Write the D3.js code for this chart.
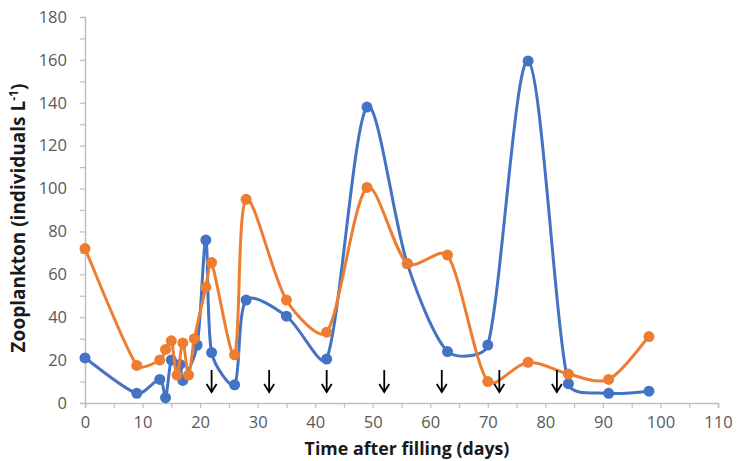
<!DOCTYPE html>
<html>
<head>
<meta charset="utf-8">
<script src="https://cdn.jsdelivr.net/npm/d3@7"></script>
<style>
  body { margin: 0; background: #fff; }
  svg { display: block; }
</style>
</head>
<body>
<svg id="chart" width="742" height="461"></svg>
<script>
// sampling days and counts for the two series
const blueDays = [0, 9, 13, 14, 15, 16.5, 17, 19.5, 21, 22, 26, 28, 35, 42, 49, 56, 63, 70, 77, 84, 91, 98];
const blueVals = [21, 4.5, 11, 2.5, 20, 18, 10.5, 27, 76, 23.5, 8.5, 48, 40.5, 20.5, 138, 65, 24, 27, 159.5, 9, 4.5, 5.5];
const orangeDays = [0, 9, 13, 14, 15, 16, 17, 18, 19, 21, 22, 26, 28, 35, 42, 49, 56, 63, 70, 77, 84, 91, 98];
const orangeVals = [72, 17.5, 20, 25, 29, 13, 28, 13, 30, 54, 65.5, 22.5, 95, 48, 33, 100.5, 65, 69, 10, 19, 13.5, 11, 31];
const arrowDays = [22, 32, 42, 52, 62, 72, 82];
const xTicks = d3.range(0, 111, 10);
const yTicks = d3.range(0, 181, 20);

const svg = d3.select("#chart");
const margin = {top: 17, right: 24, bottom: 58, left: 85};
const width = 742, height = 461;

const x = d3.scaleLinear().domain([0, 110]).range([margin.left, width - margin.right]);
const y = d3.scaleLinear().domain([0, 180]).range([height - margin.bottom, margin.top]);

const axisColor = "#bfbfbf";
const labelColor = "#595959";

// y axis
const yAxis = svg.append("g")
    .attr("transform", `translate(${margin.left},0)`)
    .call(d3.axisLeft(y).tickValues(d3.range(0, 181, 10)).tickSize(5).tickFormat(d => yTicks.includes(d) ? d : ""));
yAxis.select(".domain").attr("stroke", axisColor).attr("stroke-width", 1.5);
yAxis.selectAll(".tick line").attr("stroke", axisColor).attr("stroke-width", 1.2);
yAxis.selectAll(".tick text")
    .attr("x", -18)
    .attr("fill", labelColor)
    .style("font-family", "'Open Sans', sans-serif")
    .style("font-size", "16.5px");

// x axis
const xAxis = svg.append("g")
    .attr("transform", `translate(0,${y(0)})`)
    .call(d3.axisBottom(x).tickValues(d3.range(0, 111, 5)).tickSize(5).tickFormat(d => xTicks.includes(d) ? d : ""));
xAxis.select(".domain").attr("stroke", axisColor).attr("stroke-width", 1.5);
xAxis.selectAll(".tick line").attr("stroke", axisColor).attr("stroke-width", 1.2);
xAxis.selectAll(".tick text")
    .attr("y", 13)
    .attr("fill", labelColor)
    .style("font-family", "'Open Sans', sans-serif")
    .style("font-size", "16.5px");

// axis titles
svg.append("text")
    .attr("transform", `translate(25,${(y(0) + y(180)) / 2 + 8}) rotate(-90)`)
    .attr("text-anchor", "middle")
    .attr("fill", "#1a1a1a")
    .style("font-family", "'Open Sans', sans-serif")
    .style("font-weight", "bold")
    .style("font-size", "19px")
    .html("Zooplankton (individuals L<tspan dy='-7' font-size='12px'>-1</tspan><tspan dy='7'>)</tspan>");

svg.append("text")
    .attr("x", 407)
    .attr("y", 455)
    .attr("text-anchor", "middle")
    .attr("fill", "#1a1a1a")
    .style("font-family", "'Open Sans', sans-serif")
    .style("font-weight", "bold")
    .style("font-size", "17.8px")
    .text("Time after filling (days)");

// series
const series = [
    {color: "#4472c4", pts: blueDays.map((d, i) => [d, blueVals[i]])},
    {color: "#ed7d31", pts: orangeDays.map((d, i) => [d, orangeVals[i]])}
];

// spreadsheet-style smoothing: cardinal tangents, shortened next to long segments
function smoothPath(pts) {
    const p = pts.map(d => [x(d[0]), y(d[1])]);
    const n = p.length;
    const dist = (a, b) => Math.hypot(b[0] - a[0], b[1] - a[1]);
    const tan = p.map((d, i) => {
        const a = p[Math.max(0, i - 1)], b = p[Math.min(n - 1, i + 1)];
        return [(b[0] - a[0]) / 6, (b[1] - a[1]) / 6];
    });
    const seg = d3.range(n - 1).map(i => dist(p[i], p[i + 1]));
    const path = d3.path();
    path.moveTo(p[0][0], p[0][1]);
    for (let i = 0; i < n - 1; i++) {
        const prev = i > 0 ? seg[i - 1] : seg[i];
        const next = i < n - 2 ? seg[i + 1] : seg[i];
        const s1 = Math.min(1, 2 * seg[i] / (prev + seg[i]));
        const s2 = Math.min(1, 2 * seg[i] / (next + seg[i]));
        path.bezierCurveTo(
            p[i][0] + tan[i][0] * s1, p[i][1] + tan[i][1] * s1,
            p[i + 1][0] - tan[i + 1][0] * s2, p[i + 1][1] - tan[i + 1][1] * s2,
            p[i + 1][0], p[i + 1][1]);
    }
    return path.toString();
}

series.forEach(s => {
    const g = svg.append("g");
    g.append("path")
        .attr("d", smoothPath(s.pts))
        .attr("fill", "none")
        .attr("stroke", s.color)
        .attr("stroke-width", 3);
    g.selectAll("circle")
        .data(s.pts)
        .join("circle")
        .attr("cx", d => x(d[0]))
        .attr("cy", d => y(d[1]))
        .attr("r", 5.5)
        .attr("fill", s.color);
});

// arrows marking events
const arrows = svg.append("g");
arrowDays.forEach(d => {
    const ax = x(d);
    arrows.append("line")
        .attr("x1", ax).attr("x2", ax)
        .attr("y1", 370).attr("y2", 392)
        .attr("stroke", "#000").attr("stroke-width", 1.8);
    arrows.append("path")
        .attr("d", `M${ax - 5},${384} L${ax},${392} L${ax + 5},${384}`)
        .attr("fill", "none")
        .attr("stroke", "#000")
        .attr("stroke-width", 1.8);
});
</script>
</body>
</html>
